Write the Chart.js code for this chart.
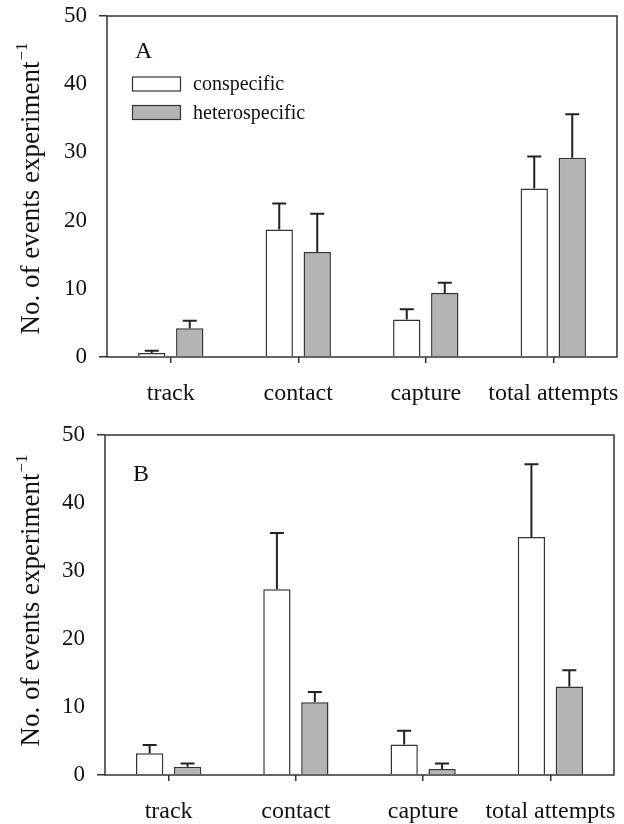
<!DOCTYPE html>
<html>
<head>
<meta charset="utf-8">
<script src="https://cdn.jsdelivr.net/npm/chart.js@4/dist/chart.umd.min.js"></script>
<style>
  body { margin: 0; background: #fff; }
  canvas { display: block; }
</style>
</head>
<body>
<canvas id="chartA" width="624" height="412"></canvas>
<canvas id="chartB" width="624" height="412"></canvas>
<script>
const categories = ["track", "contact", "capture", "total attempts"];
const seriesNames = ["conspecific", "heterospecific"];
const yTicks = [0, 10, 20, 30, 40, 50];
const yTitle = "No. of events experiment";
const yTitleSup = "\u22121";

// panel A
const consA = [0.6, 18.7, 5.5, 24.7];
const consErrA = [0.3, 3.8, 1.5, 4.7];
const hetA = [4.2, 15.4, 9.4, 29.2];
const hetErrA = [1.1, 5.6, 1.5, 6.4];

// panel B
const consB = [3.2, 27.3, 4.5, 35.0];
const consErrB = [1.2, 8.3, 2.0, 10.7];
const hetB = [1.2, 10.7, 0.9, 13.0];
const hetErrB = [0.5, 1.5, 0.8, 2.4];

const FONT = "'Liberation Serif', 'Times New Roman', serif";
const INK = "#333333";
const GREY = "#b4b4b4";

const errorBars = {
  id: "errorBars",
  afterDatasetsDraw(chart) {
    const ctx = chart.ctx;
    const y = chart.scales.y;
    ctx.save();
    ctx.strokeStyle = "#222";
    ctx.lineWidth = 2;
    chart.data.datasets.forEach((ds, i) => {
      chart.getDatasetMeta(i).data.forEach((bar, j) => {
        const top = y.getPixelForValue(ds.data[j] + ds.err[j]);
        ctx.beginPath();
        ctx.moveTo(bar.x, bar.y);
        ctx.lineTo(bar.x, top);
        ctx.moveTo(bar.x - 7, top);
        ctx.lineTo(bar.x + 7, top);
        ctx.stroke();
      });
    });
    ctx.restore();
  },
};

const frameAndText = {
  id: "frameAndText",
  afterDraw(chart, args, opts) {
    const ctx = chart.ctx;
    const a = chart.chartArea;
    ctx.save();
    ctx.strokeStyle = INK;
    ctx.lineWidth = 1.5;
    ctx.strokeRect(a.left, a.top, a.right - a.left, a.bottom - a.top);

    // panel letter
    ctx.fillStyle = "#111";
    ctx.font = `24px ${FONT}`;
    ctx.textAlign = "left";
    ctx.textBaseline = "alphabetic";
    ctx.fillText(opts.letter, a.left + 28, a.top + opts.letterDy);

    // legend
    if (opts.legend) {
      chart.data.datasets.forEach((ds, i) => {
        const by = a.top + 61 + i * 28.5;
        ctx.fillStyle = ds.backgroundColor;
        ctx.fillRect(a.left + 25.5, by, 48, 14);
        ctx.lineWidth = 1.2;
        ctx.strokeStyle = INK;
        ctx.strokeRect(a.left + 25.5, by, 48, 14);
        ctx.fillStyle = "#111";
        ctx.font = `20px ${FONT}`;
        ctx.textBaseline = "middle";
        ctx.fillText(ds.label, a.left + 86, by + 8);
      });
    }

    // rotated y title with superscript
    ctx.translate(39, 189);
    ctx.rotate(-Math.PI / 2);
    ctx.fillStyle = "#111";
    ctx.textBaseline = "alphabetic";
    ctx.font = `27px ${FONT}`;
    const w1 = ctx.measureText(yTitle).width;
    ctx.font = `17px ${FONT}`;
    const w2 = ctx.measureText(yTitleSup).width;
    const x0 = -(w1 + w2) / 2;
    ctx.font = `27px ${FONT}`;
    ctx.fillText(yTitle, x0, 0);
    ctx.font = `17px ${FONT}`;
    ctx.fillText(yTitleSup, x0 + w1 + 1, -12);
    ctx.restore();
  },
};

function makeChart(id, cons, consErr, het, hetErr, p) {
  return new Chart(document.getElementById(id), {
    type: "bar",
    data: {
      labels: categories,
      datasets: [
        { label: seriesNames[0], data: cons, err: consErr, backgroundColor: "#ffffff" },
        { label: seriesNames[1], data: het, err: hetErr, backgroundColor: GREY },
      ],
    },
    options: {
      responsive: false,
      animation: false,
      events: [],
      layout: { padding: { top: p.top, right: p.right, left: 0, bottom: 0 } },
      datasets: {
        bar: {
          borderColor: INK,
          borderWidth: 1.5,
          barPercentage: 0.72,
          categoryPercentage: 0.596,
        },
      },
      plugins: {
        legend: { display: false },
        tooltip: { enabled: false },
        frameAndText: { letter: p.letter, letterDy: p.letterDy, legend: p.legend },
      },
      scales: {
        x: {
          afterFit: (s) => {
            s.height = p.xHeight;
            s.paddingLeft = 0;
            s.paddingRight = 0;
          },
          border: { display: false },
          grid: { drawOnChartArea: false, offset: false, tickLength: 6, color: INK, lineWidth: 1.5 },
          ticks: { color: "#111", font: { family: FONT, size: 24 }, padding: 16, maxRotation: 0, autoSkip: false },
        },
        y: {
          min: 0,
          max: 50,
          afterFit: (s) => {
            s.width = p.yWidth;
            s.paddingTop = 0;
            s.paddingBottom = 0;
          },
          afterBuildTicks: (s) => { s.ticks = yTicks.map((v) => ({ value: v })); },
          border: { display: false },
          grid: {
            drawOnChartArea: false,
            tickLength: 8,
            lineWidth: 1.5,
            color: (c) => (c.tick && (c.tick.value === 0 || c.tick.value === 50) ? INK : "rgba(0,0,0,0)"),
          },
          ticks: { color: "#111", font: { family: FONT, size: 23 }, padding: 12 },
        },
      },
    },
    plugins: [errorBars, frameAndText],
  });
}

makeChart("chartA", consA, consErrA, hetA, hetErrA,
  { letter: "A", letterDy: 42, legend: true, top: 16, right: 7, yWidth: 107, xHeight: 55 });
makeChart("chartB", consB, consErrB, hetB, hetErrB,
  { letter: "B", letterDy: 46, legend: false, top: 23, right: 10, yWidth: 105, xHeight: 49 });
</script>
</body>
</html>
